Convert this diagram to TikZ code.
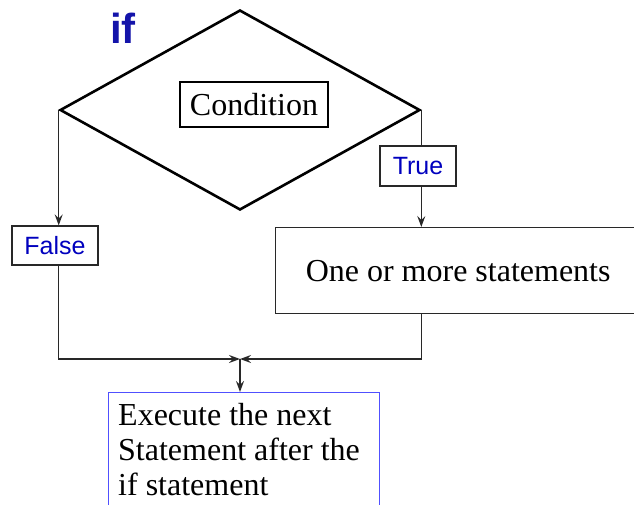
\documentclass[tikz,border=0pt]{standalone}
\usepackage{fontspec}
\setmainfont{Liberation Serif}
\setsansfont{Liberation Sans}
\usetikzlibrary{shapes.geometric,arrows.meta}

\definecolor{ifblue}{RGB}{20,20,170}
\definecolor{labelblue}{RGB}{0,0,190}
\definecolor{execblue}{RGB}{80,80,255}
\definecolor{linegrey}{RGB}{40,40,40}

\begin{document}
\begin{tikzpicture}[x=1pt, y=-1pt,
	arr/.style={-{Stealth[length=11pt, width=8pt, inset=4pt]}},
	flow/.style={draw=linegrey, line width=1.4pt},
	labelbox/.style={draw=linegrey, line width=1.2pt, inner sep=0pt,
		font=\sffamily\fontsize{25}{30}\selectfont, text=labelblue},
	bigtext/.style={font=\fontsize{32}{35}\selectfont}]

	\useasboundingbox (0,0) rectangle (634,505);

	% the test
	\node[diamond, draw, line width=2.6pt, minimum width=360pt,
		minimum height=200pt, inner sep=0pt] (cond) at (240,110) {};
	\node[draw, line width=1.2pt, minimum width=148pt, minimum height=45pt,
		inner sep=0pt, bigtext] (condtext) at (254,104.5) {Condition};
	\node[font=\sffamily\bfseries\fontsize{42}{42}\selectfont, text=ifblue]
		(iflabel) at (123,28) {if};

	% the two branches
	\node[labelbox, minimum width=86pt, minimum height=39pt] (false) at (55,245.5) {False};
	\node[labelbox, minimum width=76pt, minimum height=40pt] (true) at (418,166) {True};

	\node[draw=linegrey, line width=1.3pt, anchor=north west, minimum width=365pt,
		minimum height=86pt, bigtext] (stmts) at (275,227) {One or more statements};

	% after the if
	\node[draw=execblue, line width=1.3pt, anchor=north west, minimum width=271pt,
		minimum height=130pt] (exec) at (108,392) {};
	\node[anchor=north west, inner sep=0pt, align=left, bigtext]
		(exectext) at (118,403) {Execute the next\\Statement after the\\if statement};

	\coordinate (join) at (240,359);

	\draw[flow, arr] (cond.west) -- (cond.west |- false.north);
	\draw[flow] (cond.east) -- (cond.east |- true.north);
	\draw[flow, arr] (cond.east |- true.south) -- (cond.east |- stmts.north);

	\draw[flow, arr] (cond.west |- false.south) |- (join);
	\draw[flow, arr] (cond.east |- stmts.south) |- (join);
	\draw[flow, arr] (join) -- (join |- exec.north);

\end{tikzpicture}
\end{document}
